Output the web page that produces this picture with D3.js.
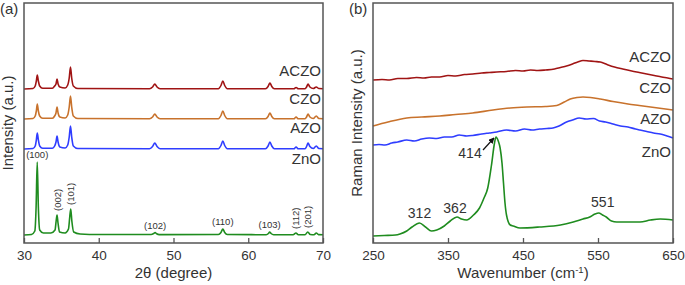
<!DOCTYPE html>
<html>
<head>
<meta charset="utf-8">
<script src="https://cdn.jsdelivr.net/npm/d3@7"></script>
<style>
  body { margin: 0; background: #fff; }
  text { font-family: "Liberation Sans", Arial, sans-serif; fill: #333; }
</style>
</head>
<body>
<svg id="chart" width="685" height="285"></svg>
<script>
// ---- data ----
var seriesNames = ["ZnO", "AZO", "CZO", "ACZO"];
var seriesColors = ["#1f8c1f", "#2f3dff", "#c8722c", "#a01414"];

// XRD: [2theta, intensity above own baseline]
var xrdOffsets = [8, 94, 124, 154];
var xrdZnO = [[30,0],[31.0,0.5],[31.45,4],[31.62,28],[31.77,73],[31.92,28],[32.1,5],[32.6,2],[33.6,2],[34.15,5],[34.3,14],[34.42,20],[34.55,12],[34.75,3],[35.5,2],[35.95,6],[36.12,18],[36.25,26],[36.4,14],[36.65,3],[37.5,1],[40,0.5],[47.0,0.5],[47.35,1.5],[47.54,2.5],[47.75,1.2],[48.1,0.4],[56.0,0.5],[56.35,2.5],[56.6,6],[56.85,2.5],[57.2,0.5],[62.4,0.3],[62.7,1.5],[62.86,3],[63.05,1.5],[63.4,0.3],[66.0,0.3],[66.38,2],[66.7,0.3],[67.6,0.3],[67.96,3],[68.3,0.5],[68.8,0.3],[69.1,2],[69.4,0.4],[70,0.3]];
var xrdAZO = [[30,0],[31.2,0.5],[31.5,3],[31.65,9],[31.78,16],[31.92,9],[32.1,3],[32.5,0.8],[33.8,0.8],[34.1,3],[34.28,7],[34.42,13],[34.56,7],[34.8,2],[35.5,1],[35.85,4],[36.05,12],[36.22,23],[36.38,12],[36.6,3],[37.2,0.5],[46.8,0.3],[47.2,2.5],[47.5,6],[47.8,2.5],[48.2,0.3],[56.0,0.3],[56.35,3.5],[56.6,8],[56.85,3.5],[57.2,0.3],[62.3,0.3],[62.65,3],[62.9,7],[63.15,3],[63.5,0.3],[66.1,0.2],[66.4,2],[66.7,0.2],[67.6,0.3],[67.8,2.5],[68.0,6],[68.25,2.5],[68.7,0.5],[69.1,3],[69.45,0.5],[70,0.3]];
var xrdCZO = [[30,0],[31.2,0.5],[31.5,3],[31.65,8],[31.78,15],[31.92,8],[32.1,3],[32.5,0.8],[33.8,0.8],[34.1,3],[34.28,6],[34.42,12],[34.56,6],[34.8,2],[35.5,1],[35.85,4],[36.05,12],[36.22,23],[36.38,12],[36.6,3],[37.2,0.5],[46.8,0.3],[47.2,2],[47.5,5],[47.8,2],[48.2,0.3],[56.0,0.3],[56.35,3.5],[56.6,8],[56.85,3.5],[57.2,0.3],[62.3,0.3],[62.65,2.5],[62.9,6],[63.15,2.5],[63.5,0.3],[66.1,0.2],[66.4,2],[66.7,0.2],[67.6,0.3],[67.8,2],[68.0,5],[68.25,2],[68.7,0.5],[69.1,3],[69.45,0.5],[70,0.3]];
var xrdACZO = [[30,0],[31.2,0.5],[31.5,3],[31.65,8],[31.78,14],[31.92,8],[32.1,3],[32.5,0.8],[33.8,0.8],[34.1,3],[34.28,5],[34.42,10],[34.56,5],[34.8,2],[35.5,1],[35.85,4],[36.05,11],[36.22,22],[36.38,11],[36.6,3],[37.2,0.5],[46.8,0.3],[47.2,2],[47.5,5],[47.8,2],[48.2,0.3],[56.0,0.3],[56.35,3.5],[56.6,8],[56.85,3.5],[57.2,0.3],[62.3,0.3],[62.65,2.5],[62.9,6],[63.15,2.5],[63.5,0.3],[66.1,0.2],[66.4,1.5],[66.7,0.2],[67.6,0.3],[67.8,2],[68.0,5],[68.25,2],[68.7,0.5],[69.1,2],[69.45,0.5],[70,0.3]];
var xrdPeaks = [
  {hkl: "(100)", t: 31.77, h: 73, rot: false},
  {hkl: "(002)", t: 34.42, h: 20, rot: true},
  {hkl: "(101)", t: 36.25, h: 26, rot: true},
  {hkl: "(102)", t: 47.54, h: 2.5, rot: false},
  {hkl: "(110)", t: 56.6, h: 6, rot: false},
  {hkl: "(103)", t: 62.86, h: 3, rot: false},
  {hkl: "(112)", t: 66.38, h: 2, rot: true},
  {hkl: "(201)", t: 67.96, h: 3, rot: true}
];
var xrdTicks = [30, 40, 50, 60, 70];

// Raman: [wavenumber, intensity above own offset]
var ramanOffsets = [0, 98, 117, 163];
var ramanZnO = [[250,7],[265,7.5],[280,8],[286,9],[295,12],[302,16],[312,20],[320,16],[328,12],[335,13],[345,17],[353,22],[362,26],[368,24],[375,23],[384,28],[392,35],[398,45],[403,55],[408,78],[412,100],[414,106],[417,102],[419.5,95],[422,80],[424,60],[426,40],[428,28],[433,18],[437,17],[446,15],[472,16],[500,18],[517,21],[530,24],[539,26],[546,29],[551,30],[556,28],[561,26],[568,22],[575,21],[590,21],[606,21],[620,23],[633,24],[650,23]];
var ramanAZO = [[250,0],[258,0.5],[266,0],[275,2],[283,3],[295,5],[305,4],[315,6],[325,7],[335,6.5],[345,8],[355,8],[365,10],[375,9],[383,9.5],[395,11],[405,12],[415,13],[428,15],[440,14],[452,16],[462,15],[472,16],[482,16.5],[490,17],[498,19],[508,23],[516,25],[525,27],[534,26],[544,26.5],[552,24],[560,23],[570,21],[580,19],[590,18],[600,16],[606,15],[615,13.5],[624,12],[633,11],[642,9],[650,7]];
var ramanCZO = [[250,0],[270,4],[295,8],[315,9],[339,10],[360,11.5],[383,13],[410,16],[433,18],[455,19],[480,19.5],[495,20.5],[505,24],[513,27],[522,28.5],[530,29],[540,28.5],[553,27],[570,24.5],[590,22],[605,20.5],[620,19],[635,17.5],[650,16]];
var ramanACZO = [[250,0],[262,0.5],[272,0],[283,1.5],[295,1.5],[308,2.5],[318,2],[328,3],[339,3],[350,4.5],[360,4],[372,5.5],[383,6],[395,7],[405,7.5],[415,8],[428,8.5],[440,9.5],[450,9],[460,10],[470,9.5],[480,10],[492,11],[500,12.5],[508,14],[516,16],[523,18],[530,19.5],[538,19],[546,18.5],[553,18],[562,15.5],[572,13],[583,11],[595,9],[605,7.5],[615,6],[625,4.5],[635,3],[643,2],[650,1]];
var ramanPeaks = [
  {label: "312", w: 312, dx: 0, dy: -5},
  {label: "362", w: 362, dx: -2, dy: -4},
  {label: "414", w: 414, dx: -26, dy: 21},
  {label: "551", w: 551, dx: 4, dy: -6}
];
var ramanTicks = [250, 350, 450, 550, 650];

// ---- layout ----
var svg = d3.select("#chart");
var plotTop = 3, plotBottom = 243;

function drawPanel(opts) {
  var x = d3.scaleLinear().domain(opts.xDomain).range([opts.left, opts.right]);
  var y = d3.scaleLinear().domain([0, 240]).range([plotBottom, plotTop]);
  var g = svg.append("g");

  var line = d3.line()
    .x(function (d) { return x(d[0]); })
    .y(function (d) { return y(d[1]); })
    .curve(d3.curveMonotoneX);

  opts.series.forEach(function (s, i) {
    var off = opts.offsets[i];
    g.append("path")
      .datum(s.map(function (d) { return [d[0], d[1] + off]; }))
      .attr("d", line)
      .attr("fill", "none")
      .attr("stroke", seriesColors[i])
      .attr("stroke-width", 1.6)
      .attr("stroke-linejoin", "round");
  });

  // frame
  g.append("rect")
    .attr("x", opts.left).attr("y", plotTop)
    .attr("width", opts.right - opts.left)
    .attr("height", plotBottom - plotTop)
    .attr("fill", "none")
    .attr("stroke", "#555")
    .attr("stroke-width", 1.5);

  // bottom axis, ticks pointing inward
  var axis = d3.axisBottom(x).tickValues(opts.ticks).tickSizeInner(-5).tickSizeOuter(0).tickPadding(7);
  var ax = g.append("g").attr("transform", "translate(0," + plotBottom + ")").call(axis);
  ax.select(".domain").remove();
  ax.selectAll("line").attr("stroke", "#555").attr("stroke-width", 1.3);
  ax.selectAll("text").style("font-size", "13.5px").attr("fill", "#333");

  // series labels
  opts.labelY.forEach(function (ly, i) {
    g.append("text")
      .attr("x", opts.right - 2).attr("y", ly)
      .attr("text-anchor", "end")
      .style("font-size", "15px")
      .text(seriesNames[i]);
  });

  // axis titles
  var xt = g.append("text")
    .attr("x", (opts.left + opts.right) / 2).attr("y", 278)
    .attr("text-anchor", "middle")
    .style("font-size", "15px");
  opts.xTitle(xt);

  g.append("text")
    .attr("transform", "translate(" + (opts.left - 11) + "," + ((plotTop + plotBottom) / 2) + ") rotate(-90)")
    .attr("text-anchor", "middle")
    .style("font-size", "15px")
    .text(opts.yTitle);

  g.append("text")
    .attr("x", opts.left - 24).attr("y", 14)
    .style("font-size", "15px")
    .text(opts.tag);

  return {x: x, y: y, g: g};
}

// (a) XRD
var a = drawPanel({
  left: 24, right: 323,
  xDomain: [30, 70],
  ticks: xrdTicks,
  series: [xrdZnO, xrdAZO, xrdCZO, xrdACZO],
  offsets: xrdOffsets,
  labelY: [164, 133, 104, 76],
  yTitle: "Intensity (a.u.)",
  tag: "(a)",
  xTitle: function (t) { t.text("2\u03b8 (degree)"); }
});

xrdPeaks.forEach(function (p) {
  var px = a.x(p.t), py = a.y(p.h + xrdOffsets[0]);
  var t = a.g.append("text")
    .style("font-size", "9.5px")
    .attr("fill", "#444")
    .text(p.hkl);
  if (p.rot) {
    t.attr("text-anchor", "start")
      .attr("transform", "translate(" + (px + 3.5) + "," + (py - 4) + ") rotate(-90)");
  } else {
    t.attr("text-anchor", "middle")
      .attr("x", px).attr("y", py - 4);
  }
});

// (b) Raman
var b = drawPanel({
  left: 373, right: 673,
  xDomain: [250, 650],
  ticks: ramanTicks,
  series: [ramanZnO, ramanAZO, ramanCZO, ramanACZO],
  offsets: ramanOffsets,
  labelY: [157, 124, 93, 62],
  yTitle: "Raman Intensity (a.u.)",
  tag: "(b)",
  xTitle: function (t) {
    t.append("tspan").text("Wavenumber (cm");
    t.append("tspan").attr("dy", -5).style("font-size", "9.5px").text("-1");
    t.append("tspan").attr("dy", 5).text(")");
  }
});

var peakVal = {};
ramanZnO.forEach(function (d) { peakVal[d[0]] = d[1]; });

svg.append("defs").append("marker")
  .attr("id", "arrow").attr("viewBox", "0 0 10 10")
  .attr("refX", 9).attr("refY", 5)
  .attr("markerWidth", 5).attr("markerHeight", 5)
  .attr("orient", "auto")
  .append("path").attr("d", "M0,0L10,5L0,10z").attr("fill", "#111");

ramanPeaks.forEach(function (p) {
  var px = b.x(p.w), py = b.y(peakVal[p.w] + ramanOffsets[0]);
  b.g.append("text")
    .attr("x", px + p.dx).attr("y", py + p.dy)
    .attr("text-anchor", "middle")
    .style("font-size", "14px")
    .text(p.label);
  if (p.label === "414") {
    b.g.append("line")
      .attr("x1", px - 13).attr("y1", py + 13)
      .attr("x2", px - 2).attr("y2", py + 1)
      .attr("stroke", "#111").attr("stroke-width", 1.2)
      .attr("marker-end", "url(#arrow)");
  }
});
</script>
</body>
</html>
